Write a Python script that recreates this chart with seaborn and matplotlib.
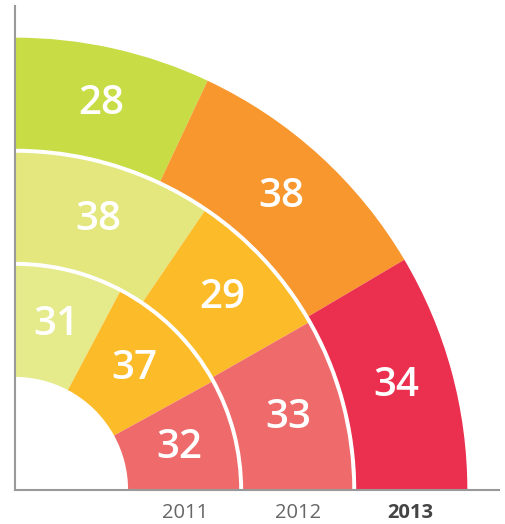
import numpy as np
import matplotlib
matplotlib.use("Agg")
import matplotlib.pyplot as plt
import seaborn as sns

# Données (pourcentages par année, du haut vers la droite)
years = ["2011", "2012", "2013"]
values_2011 = [31, 37, 32]
values_2012 = [38, 29, 33]
values_2013 = [28, 38, 34]
colors_2011 = ["#e5ea8a", "#fcbc2a", "#ef6b6b"]
colors_2012 = ["#e3e77e", "#fcbc2a", "#ef6b6b"]
colors_2013 = ["#c8dc46", "#f8972e", "#ea2f4f"]

sns.set_theme(style="white")
plt.rcParams["font.family"] = ["Open Sans", "DejaVu Sans"]

fig = plt.figure(figsize=(5.06, 5.24), dpi=100)
# origine du quart de cercle en bas à gauche
ax = fig.add_axes([15 / 506, 34 / 524, 484 / 506, 484 / 524], projection="polar")
ax.set_thetamin(0)
ax.set_thetamax(90)

hole = 1.0
ring_w = 1.0
gap = 0.035
rings = [(values_2011, colors_2011), (values_2012, colors_2012), (values_2013, colors_2013)]

for i, (vals, cols) in enumerate(rings):
    vals = np.array(vals, dtype=float)
    angles = vals / vals.sum() * (np.pi / 2)
    ends = np.pi / 2 - np.cumsum(angles)
    bottom = hole + i * ring_w + (gap / 2 if i > 0 else 0)
    height = ring_w - (gap / 2 if i > 0 else 0) - (gap / 2 if i < 2 else 0)
    ax.bar(ends, height, width=angles, bottom=bottom, align="edge",
           color=cols, edgecolor="none", linewidth=0)
    r_mid = hole + i * ring_w + ring_w / 2
    for v, a0, a in zip(vals, ends, angles):
        ax.text(a0 + a / 2, r_mid, f"{int(v)}", color="white", fontsize=29,
                fontweight="semibold", ha="center", va="center")

ax.set_rlim(0, 4.28)
ax.set_xticks([])
ax.set_yticks([hole + ring_w * (i + 0.5) for i in range(3)])
ax.set_yticklabels(years)
ax.grid(False)
ax.tick_params(axis="y", length=0, pad=9, labelsize=14.5, labelcolor="#666666")

ax.spines["polar"].set_visible(False)
ax.spines["inner"].set_visible(False)
for s in ["start", "end"]:
    ax.spines[s].set_color("#999999")
    ax.spines[s].set_linewidth(1.5)

# 2013 en gras (après un premier rendu, les ticks sont figés)
fig.canvas.draw()
for t in ax.yaxis.get_major_ticks():
    for lab in (t.label1, t.label2):
        if lab.get_text() == "2013":
            lab.set_fontweight("bold")
            lab.set_color("#444444")

fig.savefig("out.png", dpi=100)
